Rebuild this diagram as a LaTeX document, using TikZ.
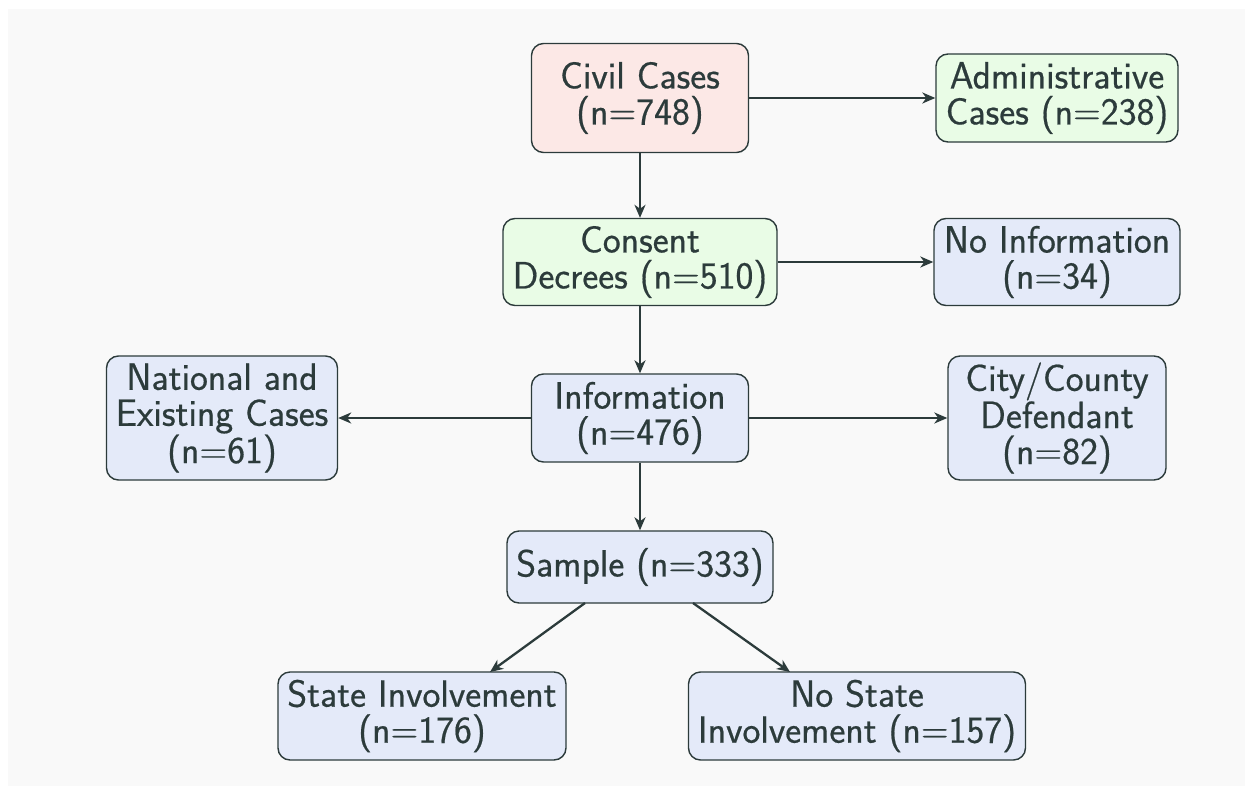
\documentclass[tikz,border=0pt]{standalone}
\usepackage{fontspec}
\usetikzlibrary{arrows.meta}
\newfontfamily\boxfont{Latin Modern Sans}[FakeBold=0.5]
\definecolor{bgc}{HTML}{F9F9F9}
\definecolor{ink}{HTML}{2C3B3B}
\definecolor{pinkc}{HTML}{FCE8E6}
\definecolor{greenc}{HTML}{E9FCE6}
\definecolor{bluec}{HTML}{E4EAF9}
\tikzset{
  box/.style={draw=ink, line width=1.4pt, rounded corners=12pt, align=center,
    text=ink, inner sep=2pt, font=\boxfont\fontsize{38}{36}\selectfont},
  conn/.style={draw=ink, line width=2.3pt, -{Stealth[length=13pt,width=11pt,inset=4pt]}}
}
\begin{document}
\begin{tikzpicture}[x=1pt,y=-1pt]
\fill[white] (0,0) rectangle (1253,795);
\fill[bgc] (8,9) rectangle (1245,786);
\useasboundingbox (0,0) rectangle (1253,795);
\node[box, fill=pinkc, minimum width=217, minimum height=109] (civil) at (640,98) {Civil Cases\\(n=748)};
\node[box, fill=greenc, minimum width=242, minimum height=88] (admin) at (1057,98) {Administrative\\Cases (n=238)};
\node[box, fill=greenc, minimum width=274, minimum height=87] (consent) at (640,262) {Consent\\Decrees (n=510)};
\node[box, fill=bluec, minimum width=246, minimum height=87] (noinfo) at (1057,262) {No Information\\(n=34)};
\node[box, fill=bluec, minimum width=217, minimum height=88] (info) at (640,418) {Information\\(n=476)};
\node[box, fill=bluec, minimum width=231, minimum height=124] (natl) at (222,418) {National and\\Existing Cases\\(n=61)};
\node[box, fill=bluec, minimum width=218, minimum height=124] (city) at (1057,418) {City/County\\Defendant\\(n=82)};
\node[box, fill=bluec, minimum width=266, minimum height=72] (sample) at (640,567) {Sample (n=333)};
\node[box, fill=bluec, minimum width=288, minimum height=88] (state) at (422,716) {State Involvement\\(n=176)};
\node[box, fill=bluec, minimum width=337, minimum height=88] (nostate) at (857,716) {No State\\Involvement (n=157)};
\coordinate (s1) at (585,603);
\coordinate (s2) at (693,603);
\coordinate (t1) at (490,672);
\coordinate (t2) at (790,672);
\draw[conn] (civil) -- (admin);
\draw[conn] (civil) -- (consent);
\draw[conn] (consent) -- (noinfo);
\draw[conn] (consent) -- (info);
\draw[conn] (info) -- (natl);
\draw[conn] (info) -- (city);
\draw[conn] (info) -- (sample);
\draw[conn] (s1) -- (t1);
\draw[conn] (s2) -- (t2);
\end{tikzpicture}
\end{document}
